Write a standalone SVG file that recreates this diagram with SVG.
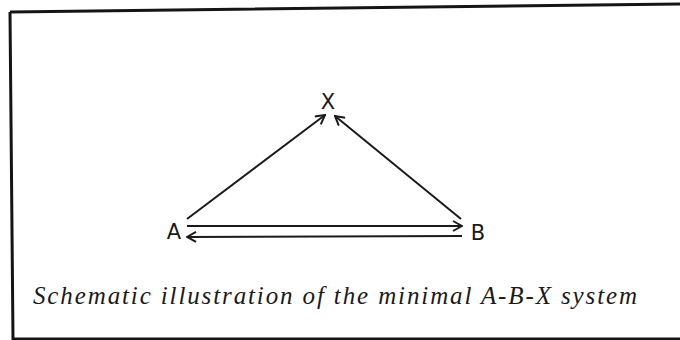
<svg xmlns="http://www.w3.org/2000/svg" width="680" height="340" viewBox="0 0 680 340">
<style>
.frame{fill:none;stroke:#151515;stroke-width:3;stroke-linejoin:miter}
.lbl{font-family:"DejaVu Sans","Liberation Sans",sans-serif;font-size:21px;fill:#1a1a1a;text-anchor:middle}
.edge{fill:none;stroke:#1a1a1a;stroke-width:2}
.cap{font-family:"Liberation Serif","DejaVu Serif",serif;font-style:italic;font-size:25px;fill:#1a1a1a}
</style>
<defs>
<marker id="ah" viewBox="0 0 12 12" refX="11" refY="6" markerWidth="12" markerHeight="12" markerUnits="userSpaceOnUse" orient="auto">
<path d="M2,1 L11,6 L2,11" fill="none" stroke="#1a1a1a" stroke-width="2"/>
</marker>
</defs>
<rect width="680" height="340" fill="#fff"/>
<path class="frame" d="M10,12 L680,4 M10,12 L13,339 L680,339"/>
<g id="X"><text class="lbl" x="328" y="109">X</text></g>
<g id="A"><text class="lbl" x="174" y="239">A</text></g>
<g id="B"><text class="lbl" x="478" y="240">B</text></g>
<g id="connectors">
<line class="edge" x1="187" y1="219" x2="325" y2="115" marker-end="url(#ah)"/>
<line class="edge" x1="461" y1="219" x2="335" y2="116" marker-end="url(#ah)"/>
<line class="edge" x1="187" y1="226" x2="462" y2="226" marker-end="url(#ah)"/>
<line class="edge" x1="462" y1="236" x2="187" y2="237" marker-end="url(#ah)"/>
</g>
<text class="cap" x="33" y="304" textLength="604" lengthAdjust="spacing">Schematic illustration of the minimal A-B-X system</text>
</svg>
